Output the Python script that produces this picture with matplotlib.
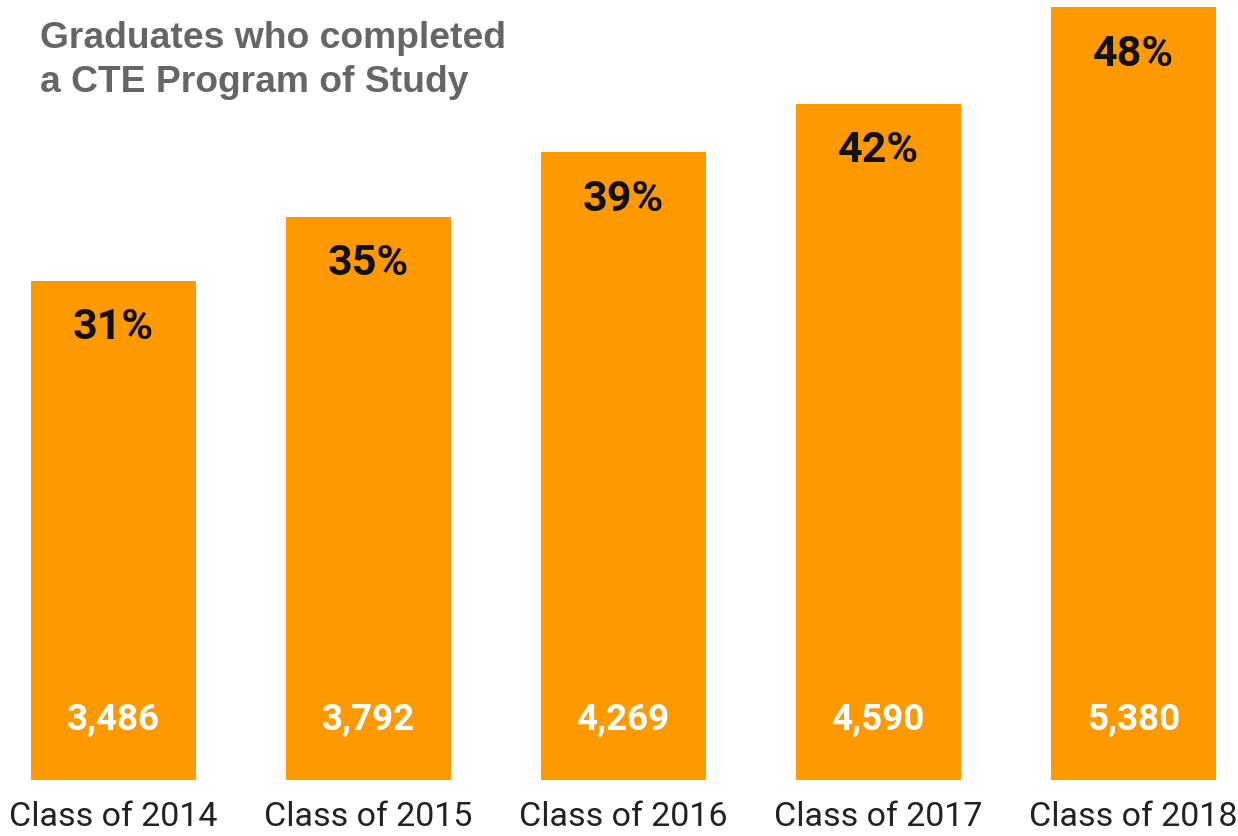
import matplotlib
matplotlib.use('Agg')
import matplotlib.pyplot as plt

# chart data
classes = ['Class of 2014', 'Class of 2015', 'Class of 2016', 'Class of 2017', 'Class of 2018']
pct = [31, 35, 39, 42, 48]
counts = [3486, 3792, 4269, 4590, 5380]

fig = plt.figure(figsize=(12.38, 8.36), dpi=100)
ax = fig.add_axes([0, 56 / 836, 1, 780 / 836])

x = list(range(len(classes)))
ax.bar(x, pct, width=0.647, color='#FF9900')

ax.set_xlim(-0.445, 4.41)
ax.set_ylim(0, 48.45)

for xi, p, c in zip(x, pct, counts):
    # percent label near top of bar
    ax.annotate(f'{p}%', (xi, p), xytext=(0, -47), textcoords='offset pixels',
                ha='center', va='center', fontsize=31, fontweight='bold',
                family='Roboto', color='#111111')
    # count label near bottom
    ax.annotate(f'{c:,}', (xi, 0), xytext=(0, 60), textcoords='offset pixels',
                ha='center', va='center', fontsize=26.5, fontweight='bold',
                family='Roboto', color='white')

ax.set_xticks(x)
ax.set_xticklabels(classes, family='Roboto', fontsize=24.5, color='#222222')
ax.tick_params(axis='x', length=0, pad=15)
ax.set_yticks([])
for s in ax.spines.values():
    s.set_visible(False)

fig.text(40 / 1238, 1 - 92 / 836, 'Graduates who completed\na CTE Program of Study',
         family='Liberation Sans', fontweight='bold', fontsize=26.8, color='#666666',
         ha='left', va='baseline', linespacing=1.32)

fig.savefig('out.png', dpi=100)
